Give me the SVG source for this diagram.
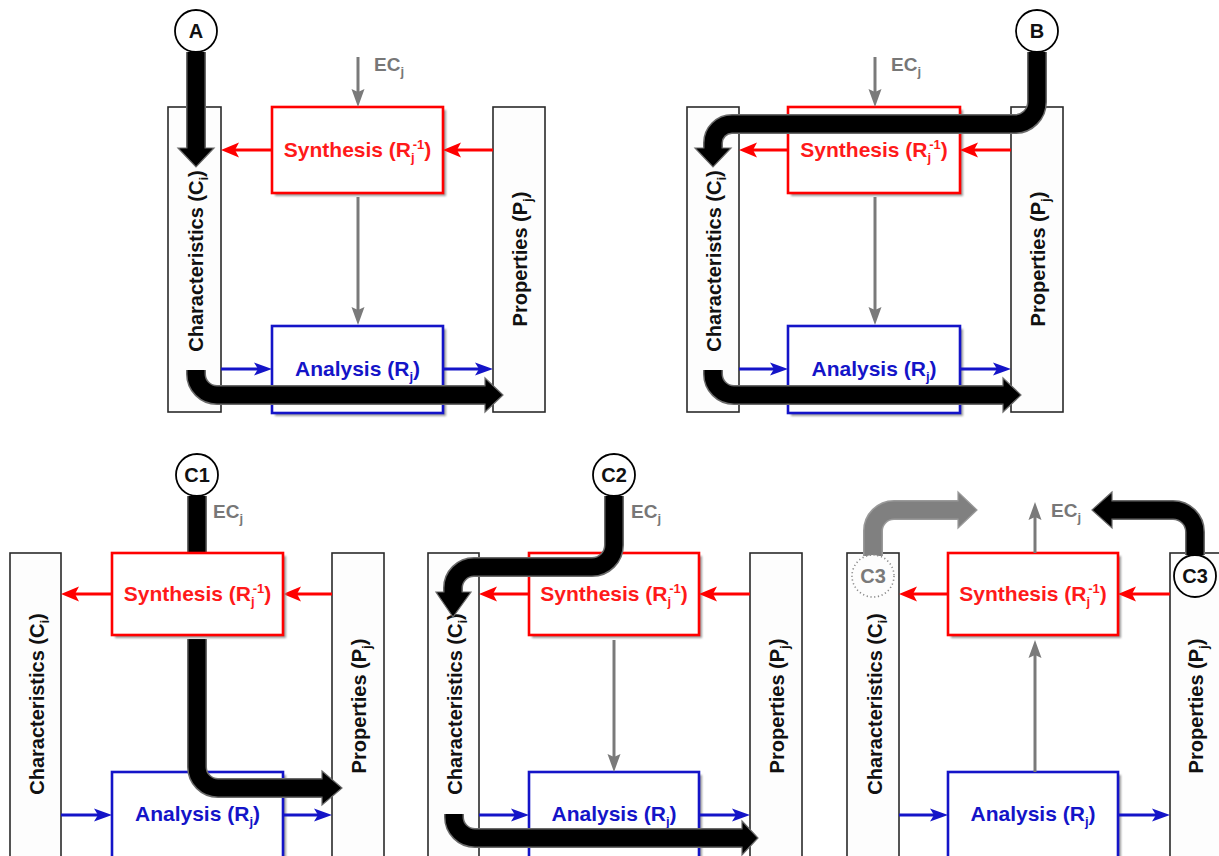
<svg xmlns="http://www.w3.org/2000/svg" xmlns:xlink="http://www.w3.org/1999/xlink" width="1219" height="856" viewBox="0 0 1219 856">
<style>
.bar{fill:#fdfdfd;stroke:#2a2a2a;stroke-width:1.6}
.syn{fill:#fff;stroke:#ff0000;stroke-width:2.6}
.ana{fill:#fff;stroke:#1414c8;stroke-width:2.6}
.sh{fill:#9a9a9a;filter:url(#blur)}
.lbl{font-family:"Liberation Sans",Arial,sans-serif;font-weight:bold;font-size:20px}
.bx{font-size:21px}
.sub{font-size:13px}
.rt{fill:#ff1a1a}
.bt{fill:#1414c8}
.dt{fill:#111}
.ec{font-size:19px;fill:#777}
.ecs{font-size:13px}
.rl{stroke:#ff0000;stroke-width:3.2;fill:none;marker-end:url(#hr)}
.bl{stroke:#1414c8;stroke-width:3.2;fill:none;marker-end:url(#hb)}
.gl{stroke:#7a7a7a;stroke-width:3;fill:none;marker-end:url(#hg)}
.tko{stroke:#6a6a6a;stroke-width:20;fill:none}
.tk{stroke:#000;stroke-width:17;fill:none}
.hd{fill:#000;stroke:#6a6a6a;stroke-width:1.2}
.gtko{stroke:#9a9a9a;stroke-width:20;fill:none}
.gtk{stroke:#808080;stroke-width:17;fill:none}
.ghd{fill:#808080;stroke:#9a9a9a;stroke-width:1.2}
.circ{fill:#fff;stroke:#000;stroke-width:1.8}
.dcirc{fill:none;stroke:#8a8a8a;stroke-width:1.6;stroke-dasharray:1.2 2.6}
</style>
<defs>
<filter id="blur" x="-10%" y="-10%" width="120%" height="120%"><feGaussianBlur stdDeviation="1"/></filter>
<marker id="hr" viewBox="-1 -9 20 18" markerWidth="20" markerHeight="18" refX="10" refY="0" orient="auto" markerUnits="userSpaceOnUse"><path d="M0,-7.5 L18,0 L0,7.5 L4,0 z" fill="#ff0000"/></marker>
<marker id="hb" viewBox="-1 -9 20 18" markerWidth="20" markerHeight="18" refX="10" refY="0" orient="auto" markerUnits="userSpaceOnUse"><path d="M0,-6.5 L18,0 L0,6.5 L4,0 z" fill="#1414c8"/></marker>
<marker id="hg" viewBox="-1 -9 20 18" markerWidth="20" markerHeight="18" refX="10" refY="0" orient="auto" markerUnits="userSpaceOnUse"><path d="M0,-6.5 L18,0 L0,6.5 L3,0 z" fill="#7a7a7a"/></marker>
<path id="pA1" d="M196,52 V149"/>
<path id="pA2" d="M196,370 V374 A21,21 0 0 0 217,395 H486"/>
<path id="pB1" d="M1037,52 V102 A22,22 0 0 1 1015,124 H732 A19,19 0 0 0 713,143 V149"/>
<path id="pB2" d="M713,370 V374 A21,21 0 0 0 734,395 H1004"/>
<path id="pC1a" d="M197,496 V553"/>
<path id="pC1b" d="M197,639 V767 A21,21 0 0 0 218,788 H323"/>
<path id="pC2a" d="M614,496 V545 A22,22 0 0 1 592,567 H474 A21,21 0 0 0 453,588 V593"/>
<path id="pC2b" d="M454,814 V817 A21,21 0 0 0 475,838 H743"/>
<path id="pC3g" d="M873,556 V531 A21,21 0 0 1 894,510 H959"/>
<path id="pC3k" d="M1195,555 V532 A22,22 0 0 0 1173,510 H1111"/>
</defs>
<rect width="1219" height="856" fill="#fff"/>

<!-- Panel A -->
<g id="panelA">
<g id="A-char"><rect class="bar" x="168" y="107" width="53" height="305"/><text class="lbl dt" transform="translate(203,261) rotate(-90)" text-anchor="middle">Characteristics (C<tspan class="sub" dy="5">i</tspan><tspan dy="-5">)</tspan></text></g>
<g id="A-prop"><rect class="bar" x="493" y="107" width="52" height="305"/><text class="lbl dt" transform="translate(527,259) rotate(-90)" text-anchor="middle">Properties (P<tspan class="sub" dy="5">j</tspan><tspan dy="-5">)</tspan></text></g>
<g id="A-syn"><rect class="sh" x="275" y="110" width="171" height="86"/><rect class="syn" x="272" y="107" width="171" height="86"/><text class="lbl bx rt" x="357.5" y="157" text-anchor="middle">Synthesis (R<tspan class="sub" dy="5">j</tspan><tspan class="sub" dx="-2" dy="-13">-1</tspan><tspan dy="8">)</tspan></text></g>
<g id="A-ana"><rect class="sh" x="275" y="329" width="171" height="87"/><rect class="ana" x="272" y="326" width="171" height="87"/><text class="lbl bx bt" x="357.5" y="376" text-anchor="middle">Analysis (R<tspan class="sub" dy="5">j</tspan><tspan dy="-5">)</tspan></text></g>
<text id="A-ec" class="lbl ec" x="374" y="71">EC<tspan class="ecs" dy="5">j</tspan></text>
</g>

<!-- Panel B -->
<g id="panelB">
<g id="B-char"><rect class="bar" x="687" y="107" width="52" height="305"/><text class="lbl dt" transform="translate(721,261) rotate(-90)" text-anchor="middle">Characteristics (C<tspan class="sub" dy="5">i</tspan><tspan dy="-5">)</tspan></text></g>
<g id="B-prop"><rect class="bar" x="1011" y="107" width="52" height="305"/><text class="lbl dt" transform="translate(1045,259) rotate(-90)" text-anchor="middle">Properties (P<tspan class="sub" dy="5">j</tspan><tspan dy="-5">)</tspan></text></g>
<g id="B-syn"><rect class="sh" x="791" y="110" width="172" height="86"/><rect class="syn" x="788" y="107" width="172" height="86"/><text class="lbl bx rt" x="874" y="157" text-anchor="middle">Synthesis (R<tspan class="sub" dy="5">j</tspan><tspan class="sub" dx="-2" dy="-13">-1</tspan><tspan dy="8">)</tspan></text></g>
<g id="B-ana"><rect class="sh" x="791" y="329" width="172" height="87"/><rect class="ana" x="788" y="326" width="172" height="87"/><text class="lbl bx bt" x="874" y="376" text-anchor="middle">Analysis (R<tspan class="sub" dy="5">j</tspan><tspan dy="-5">)</tspan></text></g>
<text id="B-ec" class="lbl ec" x="891" y="71">EC<tspan class="ecs" dy="5">j</tspan></text>
</g>

<!-- Panel C1 -->
<g id="panelC1">
<g id="C1-char"><rect class="bar" x="10" y="553" width="51" height="320"/><text class="lbl dt" transform="translate(44,704) rotate(-90)" text-anchor="middle">Characteristics (C<tspan class="sub" dy="5">i</tspan><tspan dy="-5">)</tspan></text></g>
<g id="C1-prop"><rect class="bar" x="332" y="553" width="52" height="320"/><text class="lbl dt" transform="translate(366,706) rotate(-90)" text-anchor="middle">Properties (P<tspan class="sub" dy="5">j</tspan><tspan dy="-5">)</tspan></text></g>
<g id="C1-ana"><rect class="sh" x="115" y="775" width="171" height="100"/><rect class="ana" x="112" y="772" width="171" height="100"/><text class="lbl bx bt" x="197.5" y="821" text-anchor="middle">Analysis (R<tspan class="sub" dy="5">j</tspan><tspan dy="-5">)</tspan></text></g>
<text id="C1-ec" class="lbl ec" x="213" y="518">EC<tspan class="ecs" dy="5">j</tspan></text>
</g>

<!-- Panel C2 -->
<g id="panelC2">
<g id="C2-char"><rect class="bar" x="428" y="553" width="51" height="320"/><text class="lbl dt" transform="translate(462,704) rotate(-90)" text-anchor="middle">Characteristics (C<tspan class="sub" dy="5">i</tspan><tspan dy="-5">)</tspan></text></g>
<g id="C2-prop"><rect class="bar" x="750" y="553" width="52" height="320"/><text class="lbl dt" transform="translate(784,706) rotate(-90)" text-anchor="middle">Properties (P<tspan class="sub" dy="5">j</tspan><tspan dy="-5">)</tspan></text></g>
<g id="C2-syn"><rect class="sh" x="532" y="556" width="170" height="82"/><rect class="syn" x="529" y="553" width="170" height="82"/><text class="lbl bx rt" x="614" y="601" text-anchor="middle">Synthesis (R<tspan class="sub" dy="5">j</tspan><tspan class="sub" dx="-2" dy="-13">-1</tspan><tspan dy="8">)</tspan></text></g>
<g id="C2-ana"><rect class="sh" x="532" y="775" width="170" height="100"/><rect class="ana" x="529" y="772" width="170" height="100"/><text class="lbl bx bt" x="614" y="821" text-anchor="middle">Analysis (R<tspan class="sub" dy="5">j</tspan><tspan dy="-5">)</tspan></text></g>
<text id="C2-ec" class="lbl ec" x="631" y="518">EC<tspan class="ecs" dy="5">j</tspan></text>
</g>

<!-- Panel C3 -->
<g id="panelC3">
<g id="C3-char"><rect class="bar" x="847" y="553" width="52" height="320"/><text class="lbl dt" transform="translate(882,704) rotate(-90)" text-anchor="middle">Characteristics (C<tspan class="sub" dy="5">i</tspan><tspan dy="-5">)</tspan></text></g>
<g id="C3-prop"><rect class="bar" x="1170" y="553" width="60" height="320"/><text class="lbl dt" transform="translate(1203,706) rotate(-90)" text-anchor="middle">Properties (P<tspan class="sub" dy="5">j</tspan><tspan dy="-5">)</tspan></text></g>
<g id="C3-syn"><rect class="sh" x="951" y="556" width="170" height="82"/><rect class="syn" x="948" y="553" width="170" height="82"/><text class="lbl bx rt" x="1033" y="601" text-anchor="middle">Synthesis (R<tspan class="sub" dy="5">j</tspan><tspan class="sub" dx="-2" dy="-13">-1</tspan><tspan dy="8">)</tspan></text></g>
<g id="C3-ana"><rect class="sh" x="951" y="775" width="170" height="100"/><rect class="ana" x="948" y="772" width="170" height="100"/><text class="lbl bx bt" x="1033" y="821" text-anchor="middle">Analysis (R<tspan class="sub" dy="5">j</tspan><tspan dy="-5">)</tspan></text></g>
<text id="C3-ec" class="lbl ec" x="1051" y="517">EC<tspan class="ecs" dy="5">j</tspan></text>
</g>

<!-- connectors -->
<g id="connectors">
<!-- A -->
<line class="gl" x1="358" y1="57" x2="358" y2="99"/>
<line class="gl" x1="358" y1="197" x2="358" y2="317"/>
<line class="rl" x1="272" y1="150" x2="229" y2="150"/>
<line class="rl" x1="493" y1="150" x2="451" y2="150"/>
<line class="bl" x1="221" y1="369" x2="264" y2="369"/>
<line class="bl" x1="443" y1="369" x2="485" y2="369"/>
<!-- B -->
<line class="gl" x1="875" y1="57" x2="875" y2="99"/>
<line class="gl" x1="875" y1="197" x2="875" y2="317"/>
<line class="rl" x1="788" y1="150" x2="747" y2="150"/>
<line class="rl" x1="1011" y1="150" x2="968" y2="150"/>
<line class="bl" x1="739" y1="369" x2="780" y2="369"/>
<line class="bl" x1="960" y1="369" x2="1003" y2="369"/>
<!-- C1 -->
<line class="rl" x1="112" y1="594" x2="69" y2="594"/>
<line class="rl" x1="332" y1="594" x2="291" y2="594"/>
<line class="bl" x1="61" y1="815" x2="104" y2="815"/>
<line class="bl" x1="283" y1="815" x2="324" y2="815"/>
<!-- C2 -->
<line class="gl" x1="614" y1="640" x2="614" y2="764"/>
<line class="rl" x1="529" y1="594" x2="487" y2="594"/>
<line class="rl" x1="750" y1="594" x2="707" y2="594"/>
<line class="bl" x1="479" y1="815" x2="521" y2="815"/>
<line class="bl" x1="699" y1="815" x2="742" y2="815"/>
<!-- C3 -->
<line class="gl" x1="1035" y1="553" x2="1035" y2="510"/>
<line class="gl" x1="1035" y1="772" x2="1035" y2="648"/>
<line class="rl" x1="948" y1="594" x2="907" y2="594"/>
<line class="rl" x1="1170" y1="594" x2="1126" y2="594"/>
<line class="bl" x1="899" y1="815" x2="940" y2="815"/>
<line class="bl" x1="1118" y1="815" x2="1162" y2="815"/>

<!-- thick path arrows -->
<use xlink:href="#pA1" class="tko"/><polygon class="hd" points="178,148 214,148 196,167"/><use xlink:href="#pA1" class="tk"/>
<use xlink:href="#pA2" class="tko"/><polygon class="hd" points="485,378 503,395 485,412"/><use xlink:href="#pA2" class="tk"/>
<use xlink:href="#pB1" class="tko"/><polygon class="hd" points="695,148 731,148 713,167"/><use xlink:href="#pB1" class="tk"/>
<use xlink:href="#pB2" class="tko"/><polygon class="hd" points="1003,378 1021,395 1003,412"/><use xlink:href="#pB2" class="tk"/>
<use xlink:href="#pC1a" class="tko"/><use xlink:href="#pC1a" class="tk"/>
<use xlink:href="#pC1b" class="tko"/><polygon class="hd" points="322,771 342,788 322,805"/><use xlink:href="#pC1b" class="tk"/>
<use xlink:href="#pC2a" class="tko"/><polygon class="hd" points="436,592 471,592 453,617"/><use xlink:href="#pC2a" class="tk"/>
<use xlink:href="#pC2b" class="tko"/><polygon class="hd" points="742,821 758,838 742,855"/><use xlink:href="#pC2b" class="tk"/>
<use xlink:href="#pC3g" class="gtko"/><polygon class="ghd" points="958,492 977,510 958,528"/><use xlink:href="#pC3g" class="gtk"/>
<use xlink:href="#pC3k" class="tko"/><polygon class="hd" points="1112,492 1092,510 1112,528"/><use xlink:href="#pC3k" class="tk"/>
</g>

<!-- C1 synthesis drawn over its path arrow -->
<g id="C1-syn"><rect class="sh" x="115" y="556" width="171" height="82"/><rect class="syn" x="112" y="553" width="171" height="82"/><text class="lbl bx rt" x="197.5" y="601" text-anchor="middle">Synthesis (R<tspan class="sub" dy="5">j</tspan><tspan class="sub" dx="-2" dy="-13">-1</tspan><tspan dy="8">)</tspan></text></g>

<!-- start circles -->
<g id="circA"><circle class="circ" cx="196" cy="31" r="21"/><text class="lbl dt" x="196" y="38" text-anchor="middle">A</text></g>
<g id="circB"><circle class="circ" cx="1037" cy="31" r="21"/><text class="lbl dt" x="1037" y="38" text-anchor="middle">B</text></g>
<g id="circC1"><circle class="circ" cx="197" cy="475" r="21"/><text class="lbl dt" x="197" y="482" text-anchor="middle">C1</text></g>
<g id="circC2"><circle class="circ" cx="614" cy="475" r="21"/><text class="lbl dt" x="614" y="482" text-anchor="middle">C2</text></g>
<g id="circC3a"><circle cx="873" cy="576" r="21" fill="#fdfdfd"/><circle class="dcirc" cx="873" cy="576" r="21"/><text class="lbl" fill="#7a7a7a" x="873" y="583" text-anchor="middle">C3</text></g>
<g id="circC3b"><circle class="circ" cx="1195" cy="576" r="21"/><text class="lbl dt" x="1195" y="583" text-anchor="middle">C3</text></g>
</svg>
